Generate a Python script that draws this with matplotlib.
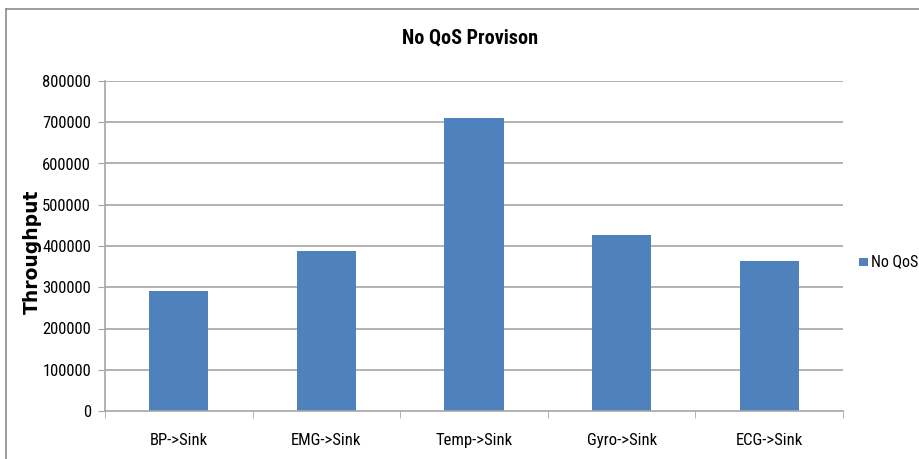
import matplotlib
matplotlib.use("Agg")
import matplotlib.pyplot as plt
from matplotlib.patches import Rectangle
from matplotlib.lines import Line2D
from matplotlib.ticker import FixedLocator

plt.rcParams['font.family'] = ['Roboto Condensed', 'DejaVu Sans']

categories = ["BP->Sink", "EMG->Sink", "Temp->Sink", "Gyro->Sink", "ECG->Sink"]
throughput = [291000, 388000, 710000, 427000, 364000]
yticks = [0, 100000, 200000, 300000, 400000, 500000, 600000, 700000, 800000]
series_name = "No QoS"

bar_color = "#4f81bd"
grid_color = "#a6a6a6"
frame_color = "#8c8c8c"

W, H = 920, 459
fig = plt.figure(figsize=(W / 100, H / 100), dpi=100)
fig.patch.set_facecolor("white")

# outer chart frame (top and left edges)
fig.add_artist(Line2D([6 / W, 1.0], [1 - 9 / H, 1 - 9 / H], transform=fig.transFigure,
                      color=frame_color, lw=1.2))
fig.add_artist(Line2D([6 / W, 6 / W], [0.0, 1 - 9 / H], transform=fig.transFigure,
                      color=frame_color, lw=1.2))

ax = fig.add_axes([105 / W, 1 - 411 / H, (843 - 105) / W, (411 - 81) / H])
x = list(range(len(categories)))
ax.bar(x, throughput, width=0.4, color=bar_color, zorder=3)

ax.set_xlim(-0.5, len(categories) - 0.5)
ax.set_ylim(0, 800000)
ax.set_yticks(yticks)
ax.set_yticklabels([str(v) for v in yticks], fontsize=12)
ax.set_xticks(x)
ax.set_xticklabels(categories, fontsize=12)
ax.xaxis.set_minor_locator(FixedLocator([i - 0.5 for i in range(len(categories) + 1)]))
ax.tick_params(axis="x", which="major", length=0, pad=15.5)
ax.tick_params(axis="x", which="minor", length=5, color=grid_color, direction="out")
ax.tick_params(axis="y", length=5, color=grid_color, direction="out", pad=5)

for v in yticks[1:]:
    ax.axhline(v, color=grid_color, lw=1.2, zorder=1)

for side in ("top", "right"):
    ax.spines[side].set_visible(False)
for side in ("left", "bottom"):
    ax.spines[side].set_color(grid_color)
    ax.spines[side].set_linewidth(1.2)
ax.spines["bottom"].set_zorder(4)

fig.text(32 / W, 1 - 252 / H, "Throughput", rotation=90, ha="center", va="center",
         fontsize=13.5, fontweight="bold", family="DejaVu Sans")
fig.text(470 / W, 1 - 38 / H, "No QoS Provison", ha="center", va="center",
         fontsize=14.5, fontweight="bold")

# legend entry
fig.add_artist(Rectangle((859 / W, 1 - 266 / H), 9 / W, 8.5 / H, transform=fig.transFigure,
                         facecolor=bar_color, edgecolor="none"))
fig.text(871 / W, 1 - 262 / H, series_name, ha="left", va="center", fontsize=11.5)

fig.savefig("out.png", dpi=100, facecolor="white")
